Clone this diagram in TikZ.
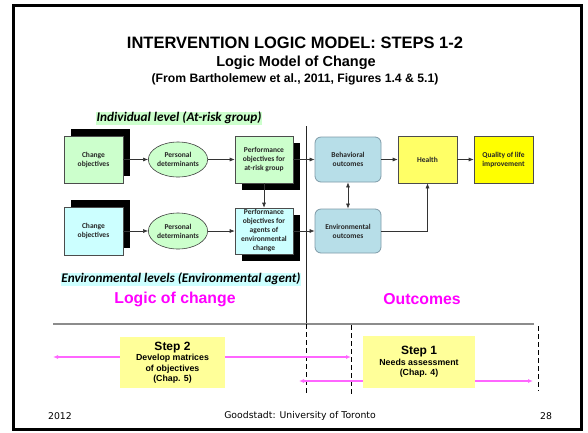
\documentclass[tikz,border=0pt]{standalone}
\usepackage{fontspec}
\setmainfont{Liberation Sans}
\newfontfamily\carl{Carlito}
\newfontfamily\dejav{DejaVu Sans}
\usetikzlibrary{shapes.geometric,shadows,arrows.meta}
\definecolor{bgreen}{HTML}{CCFFCC}
\definecolor{bcyan}{HTML}{CCFFFF}
\definecolor{oblue}{HTML}{B7DEE8}
\definecolor{oborder}{HTML}{7F9BA8}
\definecolor{hyel}{HTML}{FFFF66}
\definecolor{qyel}{HTML}{FFFF00}
\definecolor{syel}{HTML}{FFFF99}
\definecolor{mag}{HTML}{FF00FF}
\definecolor{magl}{HTML}{FF66FF}
\definecolor{txt}{HTML}{262626}
\begin{document}
\begin{tikzpicture}[x=1pt,y=-1pt,
  boxtext/.style={font=\carl\bfseries\fontsize{7.5}{9}\selectfont, text=txt, align=center, inner sep=0pt},
  sqbox/.style={boxtext, draw=black!70, line width=0.6pt, minimum width=59pt, minimum height=47pt},
  shadowur/.style={general shadow={fill=black, shadow xshift=7pt, shadow yshift=7pt}},
  shadowdr/.style={general shadow={fill=black, shadow xshift=7pt, shadow yshift=-7pt}},
  ellbox/.style={boxtext, ellipse, draw=black!75, line width=0.6pt, fill=bgreen, minimum width=52pt, minimum height=35pt},
  outbox/.style={boxtext, draw=oborder, line width=0.8pt, fill=oblue, rounded corners=6pt, minimum width=66pt, minimum height=45pt},
  arr/.style={-{Latex[length=5pt,width=4pt]}, line width=0.6pt, black!80},
  darr/.style={{Latex[length=5pt,width=4pt]}-{Latex[length=5pt,width=4pt]}, line width=0.6pt, black!80},
  marr/.style={{Latex[length=5pt,width=4pt]}-{Latex[length=5pt,width=4pt]}, line width=1.2pt, magl},
  stepbox/.style={fill=syel, minimum width=105pt, minimum height=51pt, align=center, inner sep=0pt, font=\bfseries\fontsize{8.8}{10.5}\selectfont},
  lvl/.style={font=\carl\bfseries\itshape\fontsize{13.2}{14}\selectfont, inner sep=0.5pt},
  maglabel/.style={font=\bfseries\fontsize{15.8}{18}\selectfont, text=mag},
  foot/.style={font=\dejav\fontsize{9.3}{11}\selectfont}
]
\useasboundingbox (0,0) rectangle (588,432);
\fill[white] (0,0) rectangle (588,432);
\draw[line width=3pt] (13.5,5.5) rectangle (581.5,429);

% titles
\node[font=\bfseries\fontsize{16.5}{18}\selectfont] (t1) at (295,42.5) {INTERVENTION LOGIC MODEL: STEPS 1-2};
\node[font=\bfseries\fontsize{14.5}{17}\selectfont] (t2) at (296,62.5) {Logic Model of Change};
\node[font=\bfseries\fontsize{12.2}{13}\selectfont] (t3) at (295,79) {(From Bartholemew et al., 2011, Figures 1.4 \& 5.1)};

% level labels
\node[lvl, fill=bgreen] (ind) at (179,118) {Individual level (At-risk group)};
\node[lvl, fill=bcyan] (env) at (181,279) {Environmental levels (Environmental agent)};

% row 1
\node[sqbox, fill=bgreen, shadowur] (co1) at (93.5,159.5) {Change\\objectives};
\node[ellbox] (pd1) at (178,159.5) {Personal\\determinants};
\node[sqbox, fill=bgreen, shadowdr, minimum width=58pt] (po1) at (264,159.5) {Performance\\objectives for\\at-risk group};
% row 2
\node[sqbox, fill=bcyan, shadowur, minimum height=48pt] (co2) at (93.5,231) {Change\\objectives};
\node[ellbox, minimum height=36pt] (pd2) at (178,231) {Personal\\determinants};
\node[sqbox, fill=bcyan, shadowdr, minimum width=58pt, minimum height=46pt] (po2) at (264,231) {Performance\\objectives for\\agents of\\environmental\\change};

% outcomes
\node[outbox] (bo) at (348,159.5) {Behavioral\\outcomes};
\node[outbox, minimum height=44pt] (eo) at (348,231) {Environmental\\outcomes};
\node[sqbox, fill=hyel] (he) at (427.5,159.5) {Health};
\node[sqbox, fill=qyel] (ql) at (503.5,159.5) {Quality of life\\improvement};

% divider
\coordinate (vtop) at (306,126);
\coordinate (vmid) at (306,324);
\coordinate (vbot) at (306,395);
\draw[line width=0.8pt, black!85] (vtop) -- (vmid);

% connectors
\draw[arr] (co1) -- (pd1);
\draw[arr] (pd1) -- (po1);
\draw[arr] (po1) -- (bo);
\draw[arr] (bo) -- (he);
\draw[arr] (he) -- (ql);
\draw[arr] (po1) -- (po2);
\draw[arr] (co2) -- (pd2);
\draw[arr] (pd2) -- (po2);
\draw[arr] (po2) -- (eo);
\draw[darr] (bo) -- (eo);
\draw[arr] (eo.east) -| (he.south);

% section labels
\node[maglabel] (loc) at (175,299) {Logic of change};
\node[maglabel] (outc) at (422,299) {Outcomes};

% bottom rule and dashed lines
\coordinate (hl) at (53,324);
\coordinate (hr) at (534,324);
\draw[line width=1.5pt, black!45] (hl) -- (hr);
\draw[line width=0.7pt, dash pattern=on 5pt off 3pt] (vmid) -- (vbot);
\coordinate (d2t) at (351,325);
\coordinate (d2b) at (351,395);
\draw[line width=0.7pt, dash pattern=on 5pt off 3pt] (d2t) -- (d2b);
\coordinate (d3t) at (538,326);
\coordinate (d3b) at (538,391);
\draw[line width=0.7pt, dash pattern=on 5pt off 3pt] (d3t) -- (d3b);

% magenta arrows
\coordinate (m1l) at (53,357);
\coordinate (m1r) at (351,357);
\coordinate (m2l) at (299,381);
\coordinate (m2r) at (533,381);
\draw[marr] (m1l) -- (m1r);
\draw[marr] (m2l) -- (m2r);

% step boxes
\node[stepbox] (s2) at (172.5,362.5) {{\fontsize{12}{14}\selectfont Step 2}\\Develop matrices\\of objectives\\(Chap. 5)};
\node[stepbox, minimum width=112pt, minimum height=52pt] (s1) at (419,362) {{\fontsize{12}{14}\selectfont Step 1}\\Needs assessment\\(Chap. 4)};

% footer
\node[foot] (f1) at (60,416) {2012};
\node[foot] (f2) at (300,416) {Goodstadt: University of Toronto};
\node[foot] (f3) at (546,416) {28};
\end{tikzpicture}
\end{document}
